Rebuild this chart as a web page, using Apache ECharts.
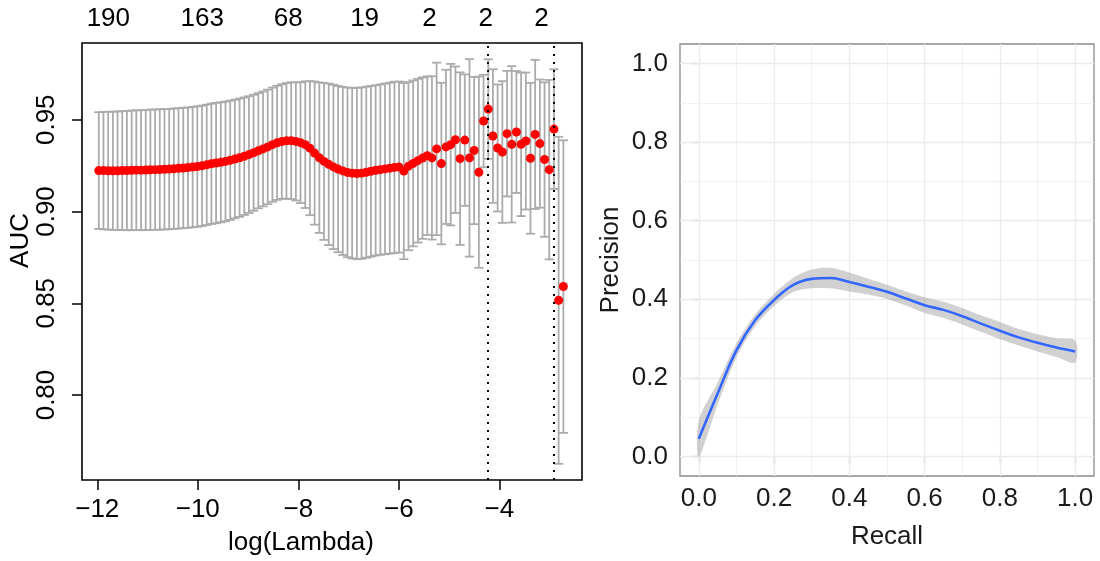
<!DOCTYPE html>
<html><head><meta charset="utf-8">
<script src="https://cdn.jsdelivr.net/npm/echarts@6.0.0/dist/echarts.min.js"></script>
<style>html,body{margin:0;padding:0;background:#fff}#c{width:1100px;height:561px}</style>
</head><body><div id="c"></div>
<script>
// ---------- Left panel: cross-validated AUC vs log(Lambda) ----------
const logLambda = [
-11.970,-11.877,-11.783,-11.690,-11.596,-11.503,-11.410,-11.316,-11.223,-11.130,
-11.036,-10.943,-10.849,-10.756,-10.663,-10.569,-10.476,-10.383,-10.289,-10.196,
-10.102,-10.009,-9.916,-9.822,-9.729,-9.636,-9.542,-9.449,-9.355,-9.262,
-9.169,-9.075,-8.982,-8.889,-8.795,-8.702,-8.608,-8.515,-8.422,-8.328,
-8.235,-8.141,-8.048,-7.955,-7.861,-7.768,-7.675,-7.581,-7.488,-7.394,
-7.301,-7.208,-7.114,-7.021,-6.928,-6.834,-6.741,-6.647,-6.554,-6.461,
-6.367,-6.274,-6.180,-6.087,-5.994,-5.900,-5.807,-5.714,-5.620,-5.527,
-5.433,-5.340,-5.247,-5.153,-5.060,-4.967,-4.873,-4.780,-4.686,-4.593,
-4.500,-4.406,-4.313,-4.219,-4.126,-4.033,-3.939,-3.846,-3.753,-3.659,
-3.566,-3.472,-3.379,-3.286,-3.192,-3.099,-3.006,-2.912,-2.819,-2.725];
const aucMean = [
0.9223,0.9223,0.9222,0.9222,0.9222,0.9223,0.9223,0.9224,0.9225,0.9225,
0.9226,0.9227,0.9228,0.9229,0.9230,0.9231,0.9233,0.9235,0.9237,0.9239,
0.9242,0.9245,0.9249,0.9254,0.9260,0.9264,0.9268,0.9273,0.9279,0.9286,
0.9293,0.9301,0.9310,0.9320,0.9331,0.9341,0.9352,0.9364,0.9374,0.9381,
0.9385,0.9386,0.9382,0.9375,0.9364,0.9345,0.9318,0.9293,0.9273,0.9257,
0.9243,0.9231,0.9221,0.9213,0.9209,0.9207,0.9209,0.9214,0.9219,0.9224,
0.9228,0.9232,0.9236,0.9240,0.9242,0.9220,0.9247,0.9262,0.9277,0.9291,
0.9304,0.9292,0.9341,0.9261,0.9352,0.9364,0.9391,0.9288,0.9389,0.9292,
0.9332,0.9214,0.9493,0.9558,0.9411,0.9346,0.9324,0.9424,0.9366,0.9433,
0.9366,0.9384,0.9290,0.9420,0.9370,0.9283,0.9228,0.9449,0.8516,0.8591];
const aucSd = [
0.0318,0.0320,0.0321,0.0322,0.0323,0.0324,0.0325,0.0326,0.0326,0.0327,
0.0327,0.0328,0.0328,0.0328,0.0328,0.0328,0.0328,0.0328,0.0328,0.0328,
0.0328,0.0328,0.0328,0.0328,0.0328,0.0328,0.0327,0.0326,0.0325,0.0323,
0.0322,0.0320,0.0318,0.0316,0.0314,0.0313,0.0312,0.0311,0.0311,0.0312,
0.0315,0.0318,0.0322,0.0329,0.0345,0.0365,0.0390,0.0410,0.0428,0.0440,
0.0448,0.0453,0.0458,0.0462,0.0465,0.0467,0.0467,0.0466,0.0465,0.0464,
0.0464,0.0465,0.0466,0.0467,0.0466,0.0480,0.0458,0.0452,0.0446,0.0440,
0.0432,0.0445,0.0470,0.0440,0.0420,0.0440,0.0399,0.0470,0.0358,0.0538,
0.0401,0.0521,0.0252,0.0271,0.0364,0.0346,0.0386,0.0342,0.0426,0.0332,
0.0391,0.0373,0.0411,0.0406,0.0349,0.0421,0.0489,0.0326,0.0891,0.0797];
const nzeroPos = [-11.78, -9.91, -8.20, -6.68, -5.39, -4.27, -3.16];
const nzeroLabels = ['190', '163', '68', '19', '2', '2', '2'];
const lambdaTicks = [-12, -10, -8, -6, -4];
const aucTicks = [0.80, 0.85, 0.90, 0.95];

// ---------- Right panel: smoothed precision vs recall ----------
const recall = [0,0.05,0.1,0.15,0.2,0.25,0.3,0.35,0.4,0.45,0.5,0.55,0.6,0.65,0.7,0.75,0.8,0.85,0.9,0.95,1.0];
const precision = [0.045,0.160,0.270,0.347,0.398,0.436,0.452,0.454,0.444,0.432,0.419,0.402,0.385,0.373,0.357,0.338,0.320,0.303,0.289,0.277,0.267];
const precisionSe = [0.047,0.028,0.018,0.015,0.015,0.018,0.024,0.026,0.024,0.020,0.018,0.018,0.020,0.021,0.021,0.021,0.022,0.021,0.022,0.024,0.028];
const prTicks = [0, 0.2, 0.4, 0.6, 0.8, 1.0];
const prMinor = [0.1, 0.3, 0.5, 0.7, 0.9];

// lambda.min and lambda.1se (as glmnet defines them)
let iMax = 0;
aucMean.forEach((v, i) => { if (v > aucMean[iMax]) iMax = i; });
const thr = aucMean[iMax] - aucSd[iMax];
let i1se = iMax;
aucMean.forEach((v, i) => { if (i > i1se && v >= thr) i1se = i; });
const cutLines = [logLambda[iMax], logLambda[i1se]];

const FONT = "'Liberation Sans', Arial, sans-serif";
const minus = v => (v < 0 ? '\u2212' + Math.abs(v) : String(v));

const chart = echarts.init(document.getElementById('c'), null, { renderer: 'canvas' });
const gridLineData = [];
prTicks.forEach(v => { gridLineData.push({ xAxis: v, lineStyle: { width: 1.3 } }); gridLineData.push({ yAxis: v, lineStyle: { width: 1.3 } }); });
prMinor.forEach(v => { gridLineData.push({ xAxis: v, lineStyle: { width: 0.7 } }); gridLineData.push({ yAxis: v, lineStyle: { width: 0.7 } }); });

chart.setOption({
  animation: false,
  backgroundColor: '#fff',
  textStyle: { fontFamily: FONT },
  grid: [
    { left: 82, top: 43, width: 500, height: 437, show: true, borderColor: '#000', borderWidth: 1.6, backgroundColor: 'transparent', containLabel: false, outerBoundsMode: 'none' },
    { left: 680, top: 44, width: 414, height: 432, show: true, borderColor: '#8a8a8a', borderWidth: 1.3, backgroundColor: 'transparent', containLabel: false, outerBoundsMode: 'none' }
  ],
  xAxis: [
    { type: 'value', gridIndex: 0, min: -12.304, max: -2.354, position: 'bottom',
      axisLine: { show: false }, splitLine: { show: false },
      axisTick: { show: true, length: 10, customValues: lambdaTicks, lineStyle: { color: '#000', width: 1.5 } },
      axisLabel: { customValues: lambdaTicks, formatter: minus, fontSize: 26, color: '#000', margin: 17, fontFamily: FONT },
      name: 'log(Lambda)', nameLocation: 'middle', nameGap: 50, nameMoveOverlap: false,
      nameTextStyle: { fontSize: 26, color: '#000', fontFamily: FONT, padding: [0, 62, 0, 0] } },
    { type: 'value', gridIndex: 0, min: -12.304, max: -2.354, position: 'top',
      axisLine: { show: false }, axisTick: { show: false }, splitLine: { show: false },
      axisLabel: { customValues: nzeroPos, fontSize: 26, color: '#000', margin: 11, fontFamily: FONT,
        formatter: v => { const k = nzeroPos.findIndex(p => Math.abs(p - v) < 1e-6); return k >= 0 ? nzeroLabels[k] : ''; } } },
    { type: 'value', gridIndex: 1, min: -0.05, max: 1.05,
      axisLine: { show: false }, splitLine: { show: false },
      axisTick: { show: true, length: 7, customValues: prTicks, lineStyle: { color: '#8a8a8a', width: 1.3 } },
      axisLabel: { customValues: prTicks, formatter: v => v.toFixed(1), fontSize: 26, color: '#1a1a1a', margin: 10, fontFamily: FONT },
      name: 'Recall', nameLocation: 'middle', nameGap: 48, nameMoveOverlap: false,
      nameTextStyle: { fontSize: 26, color: '#1a1a1a', fontFamily: FONT } }
  ],
  yAxis: [
    { type: 'value', gridIndex: 0, min: 0.7537, max: 0.9918,
      axisLine: { show: false }, splitLine: { show: false },
      axisTick: { show: true, length: 10, customValues: aucTicks, lineStyle: { color: '#000', width: 1.5 } },
      axisLabel: { customValues: aucTicks, formatter: v => v.toFixed(2), rotate: 90, fontSize: 26, color: '#000', margin: 22, fontFamily: FONT },
      name: 'AUC', nameLocation: 'middle', nameGap: 48, nameMoveOverlap: false,
      nameTextStyle: { fontSize: 26, color: '#000', fontFamily: FONT, padding: [0, 0, 0, 42] } },
    { type: 'value', gridIndex: 1, min: -0.05, max: 1.05,
      axisLine: { show: false }, splitLine: { show: false },
      axisTick: { show: true, length: 7, customValues: prTicks, lineStyle: { color: '#8a8a8a', width: 1.3 } },
      axisLabel: { customValues: prTicks, formatter: v => v.toFixed(1), fontSize: 26, color: '#1a1a1a', margin: 12, fontFamily: FONT },
      name: 'Precision', nameLocation: 'middle', nameGap: 56, nameMoveOverlap: false,
      nameTextStyle: { fontSize: 26, color: '#1a1a1a', fontFamily: FONT } }
  ],
  series: [
    { type: 'custom', xAxisIndex: 0, yAxisIndex: 0, z: 2, silent: true,
      data: logLambda.map((x, i) => [x, aucMean[i] - aucSd[i], aucMean[i] + aucSd[i]]),
      encode: { x: 0, y: [1, 2] },
      renderItem: (params, api) => {
        const x = api.value(0), lo = api.value(1), hi = api.value(2);
        const a = api.coord([x, hi]), b = api.coord([x, lo]);
        const w = 4.6;
        const st = { stroke: '#ababab', lineWidth: 1.8 };
        return { type: 'group', children: [
          { type: 'line', shape: { x1: a[0], y1: a[1], x2: b[0], y2: b[1] }, style: st },
          { type: 'line', shape: { x1: a[0] - w, y1: a[1], x2: a[0] + w, y2: a[1] }, style: st },
          { type: 'line', shape: { x1: b[0] - w, y1: b[1], x2: b[0] + w, y2: b[1] }, style: st }
        ] };
      } },
    { type: 'scatter', xAxisIndex: 0, yAxisIndex: 0, z: 3, silent: true,
      data: logLambda.map((x, i) => [x, aucMean[i]]),
      symbol: 'circle', symbolSize: 9, itemStyle: { color: '#ff0000', opacity: 1 },
      markLine: { silent: true, symbol: ['none', 'none'], label: { show: false }, z: 6,
        lineStyle: { color: '#000', type: [2, 6], width: 2 },
        data: cutLines.map(v => ({ xAxis: v })) } },
    { type: 'custom', xAxisIndex: 2, yAxisIndex: 1, z: 2, silent: true,
      data: recall.map((r, i) => [r, precision[i] - precisionSe[i], precision[i] + precisionSe[i]]),
      encode: { x: 0, y: [1, 2] },
      renderItem: (params, api) => {
        if (params.dataIndex !== 0) return null;
        const up = recall.map((r, i) => api.coord([r, precision[i] + precisionSe[i]]));
        const lo = recall.map((r, i) => api.coord([r, precision[i] - precisionSe[i]])).reverse();
        return { type: 'group', children: [
          { type: 'polygon', shape: { points: up.concat(lo), smooth: 0.3 }, style: { fill: 'rgba(153,153,153,0.45)', stroke: null } }
        ] };
      } },
    { type: 'line', name: 'fit', xAxisIndex: 2, yAxisIndex: 1, z: 4, silent: true,
      data: recall.map((r, i) => [r, precision[i]]),
      smooth: 0.4, showSymbol: false, lineStyle: { color: '#3366ff', width: 2.6 },
      markLine: { silent: true, symbol: ['none', 'none'], label: { show: false }, z: 1,
        lineStyle: { color: '#ebebeb', type: 'solid' }, data: gridLineData } }
  ]
});
</script></body></html>
